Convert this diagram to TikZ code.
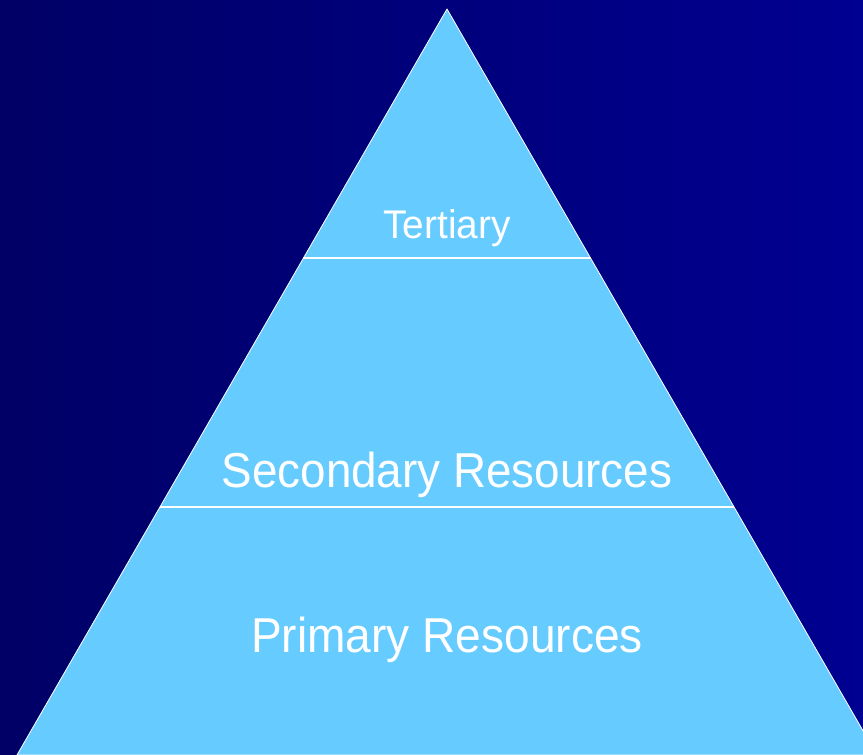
\documentclass[tikz,border=0pt]{standalone}
\usepackage{fontspec}
\setmainfont{Liberation Sans}
\usepackage{xcolor}
\usetikzlibrary{calc}
\definecolor{navyleft}{RGB}{0,0,102}
\definecolor{navyright}{RGB}{0,0,145}
\definecolor{skyfill}{RGB}{102,204,255}
\tikzset{tier/.style={fill=skyfill,draw=white,line width=0.8pt,line join=round},
  divider/.style={draw=white,line width=1.2pt},
  tier label/.style={text=white,anchor=base,inner sep=0pt,transform shape}}

\begin{document}
\begin{tikzpicture}[x=1pt,y=-1pt]
	\useasboundingbox (0,0) rectangle (863,755);
	\shade[left color=navyleft,right color=navyright] (0,0) rectangle (863,755);
	\clip (0,0) rectangle (863,755);
	\coordinate (A) at (447,9);
	\coordinate (B) at (17,755);
	\coordinate (C) at (877,755);
	\coordinate (T1) at ($(A)!{249/746}!(B)$);
	\coordinate (T2) at ($(A)!{249/746}!(C)$);
	\coordinate (S1) at ($(A)!{498/746}!(B)$);
	\coordinate (S2) at ($(A)!{498/746}!(C)$);
	\draw[tier] (A) -- (B) -- (C) -- cycle;
	\draw[divider] (T1) -- (T2);
	\draw[divider] (S1) -- (S2);
	% labels
	\node[tier label,xscale=0.97,font=\fontsize{40}{48}\selectfont] (tertiary) at (447,238) {Tertiary};
	\node[tier label,xscale=0.935,font=\fontsize{49}{58}\selectfont] (secondary) at (447,487) {Secondary Resources};
	\node[tier label,xscale=0.94,font=\fontsize{49}{58}\selectfont] (primary) at (447,652) {Primary Resources};
\end{tikzpicture}
\end{document}
